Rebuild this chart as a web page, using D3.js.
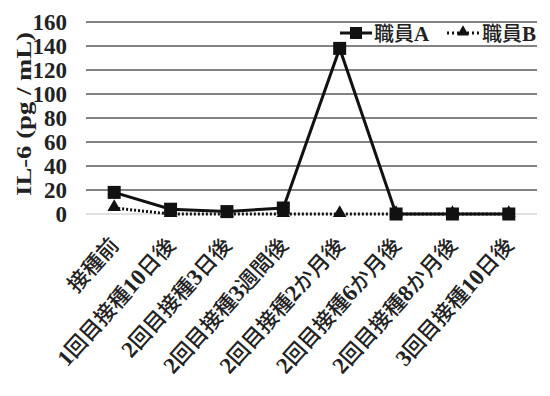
<!DOCTYPE html>
<html><head><meta charset="utf-8">
<script src="https://cdn.jsdelivr.net/npm/d3@7"></script>
<style>body{margin:0;background:#fff}</style>
</head><body><svg id="c" width="550" height="396"></svg>
<script>
const categories = ["接種前","1回目接種10日後","2回目接種3日後","2回目接種3週間後","2回目接種2か月後","2回目接種6か月後","2回目接種8か月後","3回目接種10日後"];
const staffA = [18, 4, 2, 5, 138, 0, 0, 0];
const staffB = [5, 0, 0, 0, 0, 0, 0, 0];
const yTicks = [0, 20, 40, 60, 80, 100, 120, 140, 160];
const seriesNames = ["職員A", "職員B"];

const svg = d3.select("#c");
const plotLeft = 86, plotRight = 537, plotTop = 22, plotBottom = 214;
const latin = "'Liberation Serif','Times New Roman',serif";
const cjk = "'Noto Sans CJK JP',sans-serif";

const x = d3.scalePoint().domain(categories).range([plotLeft, plotRight]).padding(0.5);
const y = d3.scaleLinear().domain([0, 160]).range([plotBottom, plotTop]);

// split a label into latin / CJK runs so each gets its own face
function runs(s) {
  return s.match(/[\x00-\x7F]+|[^\x00-\x7F]+/g);
}
function fillMixed(sel, text, latinSize, cjkSize) {
  runs(text).forEach(r => {
    const isLatin = /^[\x00-\x7F]+$/.test(r);
    sel.append("tspan").text(r)
      .attr("font-family", isLatin ? latin : cjk)
      .attr("font-weight", isLatin ? "bold" : 500)
      .attr("font-size", isLatin ? latinSize : cjkSize);
  });
}

// gridlines
svg.append("g").selectAll("line").data(yTicks.filter(d => d > 0)).join("line")
  .attr("x1", plotLeft).attr("x2", plotRight)
  .attr("y1", d => y(d)).attr("y2", d => y(d))
  .attr("stroke", "#5a5a5a").attr("stroke-width", 1.6);
svg.append("line").attr("x1", plotLeft).attr("x2", plotRight)
  .attr("y1", y(0)).attr("y2", y(0)).attr("stroke", "#c4c4c4").attr("stroke-width", 1.2);

// y axis labels
const yAxis = d3.axisLeft(y).tickValues(yTicks).tickSize(0).tickPadding(0);
const gy = svg.append("g").attr("transform", "translate(67,0)").call(yAxis);
gy.select(".domain").remove();
gy.selectAll("text").attr("font-family", latin).attr("font-weight", "bold")
  .attr("font-size", 23).attr("fill", "#222").attr("dy", "0.34em");

svg.append("text").attr("transform", `translate(31,${114}) rotate(-90)`)
  .attr("text-anchor", "middle").attr("font-family", latin).attr("font-weight", "bold")
  .attr("font-size", 21).attr("fill", "#222")
  .attr("textLength", 164).attr("lengthAdjust", "spacingAndGlyphs")
  .text("IL-6 (pg / mL)");

// x labels
svg.append("g").selectAll("text").data(categories).join("text")
  .attr("transform", d => `translate(${x(d) + 6},${246}) rotate(-48)`)
  .attr("text-anchor", "end").attr("fill", "#222")
  .each(function (d) { fillMixed(d3.select(this), d, 23, 21.5); });

const line = d3.line().x((d, i) => x(categories[i])).y(d => y(d));

// series B (dotted, triangles)
svg.append("path").datum(staffB).attr("d", line).attr("fill", "none")
  .attr("stroke", "#111").attr("stroke-width", 3).attr("stroke-dasharray", "2,2");
const tri = d3.symbol().type(d3.symbolTriangle).size(80);
svg.append("g").selectAll("path").data(staffB).join("path")
  .attr("transform", (d, i) => `translate(${x(categories[i])},${y(d) - 1})`)
  .attr("d", tri).attr("fill", "#111");

// series A (solid, squares)
svg.append("path").datum(staffA).attr("d", line).attr("fill", "none")
  .attr("stroke", "#111").attr("stroke-width", 3);
svg.append("g").selectAll("rect").data(staffA).join("rect")
  .attr("x", (d, i) => x(categories[i]) - 6.5).attr("y", d => y(d) - 6.5)
  .attr("width", 13).attr("height", 13).attr("fill", "#111");

// legend
const lg = svg.append("g");
lg.append("line").attr("x1", 340).attr("x2", 372).attr("y1", 33).attr("y2", 33)
  .attr("stroke", "#111").attr("stroke-width", 3);
lg.append("rect").attr("x", 350).attr("y", 27).attr("width", 12).attr("height", 12).attr("fill", "#111");
fillMixed(lg.append("text").attr("x", 374).attr("y", 41).attr("fill", "#222"), seriesNames[0], 21, 20);
lg.append("line").attr("x1", 447).attr("x2", 479).attr("y1", 33).attr("y2", 33)
  .attr("stroke", "#111").attr("stroke-width", 3).attr("stroke-dasharray", "2,3");
lg.append("path").attr("transform", "translate(463,32)")
  .attr("d", d3.symbol().type(d3.symbolTriangle).size(60)).attr("fill", "#111");
fillMixed(lg.append("text").attr("x", 482).attr("y", 41).attr("fill", "#222"), seriesNames[1], 21, 20);
</script></body></html>
